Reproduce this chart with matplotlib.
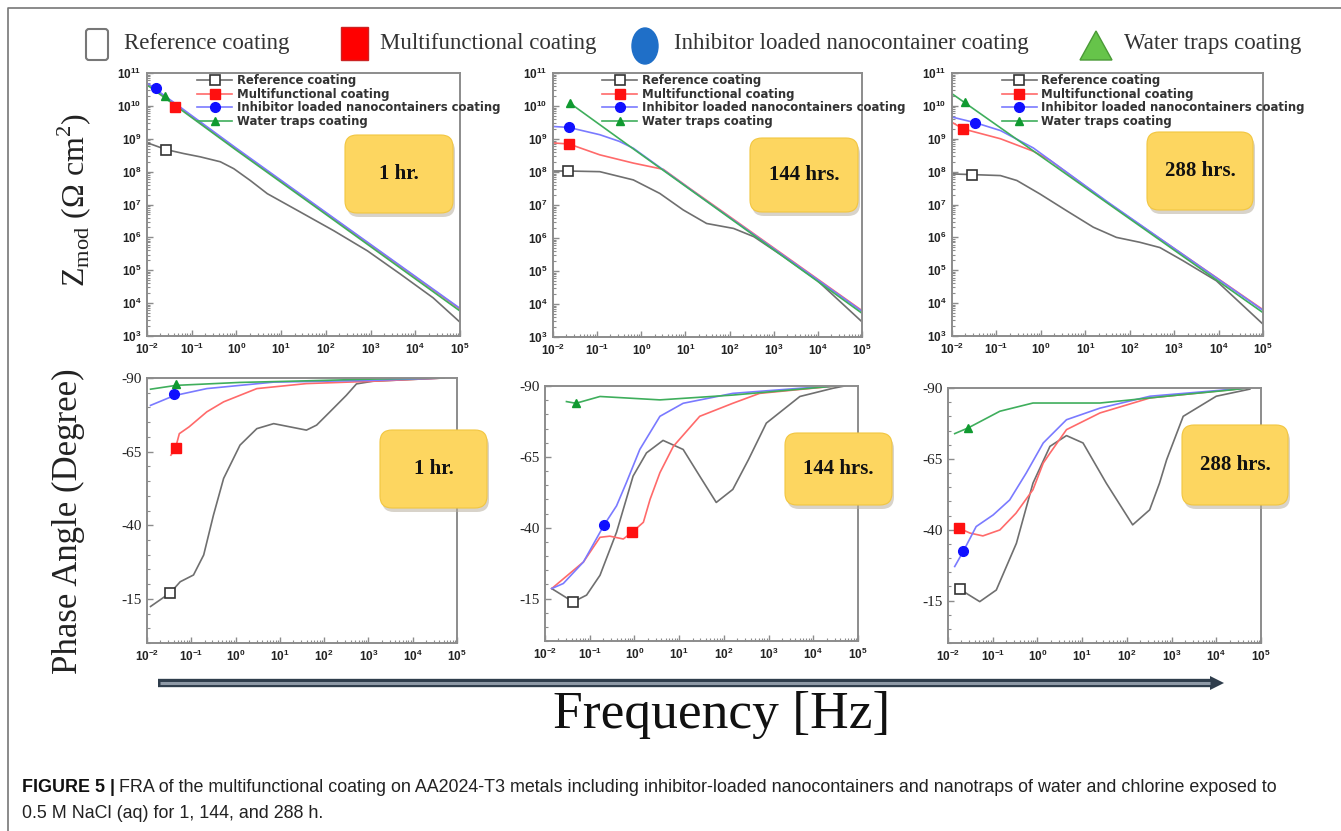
import numpy as np
import matplotlib
matplotlib.use("Agg")
import matplotlib.pyplot as plt
from matplotlib.lines import Line2D
from matplotlib.patches import FancyBboxPatch, Rectangle, Ellipse, Polygon
from matplotlib.ticker import LogLocator, MultipleLocator, NullFormatter

W, H = 1341, 831
plt.rcParams["font.family"] = ["Liberation Sans", "DejaVu Sans"]
plt.rcParams["font.weight"] = "bold"
plt.rcParams["font.size"] = 8

names = ["Reference coating", "Multifunctional coating",
         "Inhibitor loaded nanocontainers coating", "Water traps coating"]
hours = ["1 hr.", "144 hrs.", "288 hrs."]

# ---- |Z| data, log10(f) / log10(Z) ----
z1_ref_f = [-1.96, -1.57, -1.18, -0.81, -0.36, -0.06, 0.31, 0.69, 1.43, 2.18, 2.93, 3.67, 4.4, 5.0]
z1_ref_z = [8.86, 8.67, 8.55, 8.45, 8.3, 8.09, 7.73, 7.33, 6.77, 6.2, 5.59, 4.88, 4.16, 3.42]
z1_mul_f = [-1.96, 0.0, 2.0, 5.0]
z1_mul_z = [10.62, 8.68, 6.74, 3.82]
z1_inh_f = [-1.96, 0.0, 2.0, 5.0]
z1_inh_z = [10.66, 8.71, 6.76, 3.84]
z1_wat_f = [-1.96, 0.0, 2.0, 5.0]
z1_wat_z = [10.6, 8.65, 6.7, 3.76]

z2_ref_f = [-2.0, -1.66, -0.94, -0.18, 0.42, 0.95, 1.48, 2.09, 2.55, 3.23, 3.98, 5.0]
z2_ref_z = [8.03, 8.03, 8.01, 7.76, 7.35, 6.85, 6.44, 6.29, 6.04, 5.43, 4.72, 3.46]
z2_mul_f = [-2.0, -1.64, -0.94, -0.18, 0.5, 1.1, 2.0, 5.0]
z2_mul_z = [8.88, 8.85, 8.52, 8.27, 8.08, 7.5, 6.65, 3.8]
z2_inh_f = [-2.0, -1.64, -0.94, -0.5, -0.18, 1.5, 5.0]
z2_inh_z = [9.38, 9.35, 9.13, 8.93, 8.72, 7.1, 3.78]
z2_wat_f = [-1.62, -0.18, 1.5, 5.0]
z2_wat_z = [10.09, 8.7, 7.09, 3.72]

z3_ref_f = [-2.0, -1.55, -0.91, -0.54, -0.02, 0.58, 1.18, 1.7, 2.23, 2.68, 3.2, 3.95, 5.0]
z3_ref_z = [7.93, 7.91, 7.88, 7.73, 7.32, 6.81, 6.31, 6.0, 5.85, 5.69, 5.29, 4.68, 3.36]
z3_mul_f = [-2.0, -1.75, -0.91, -0.17, 0.2, 1.5, 5.0]
z3_mul_z = [9.5, 9.3, 9.0, 8.62, 8.35, 7.06, 3.8]
z3_inh_f = [-2.0, -1.48, -0.91, -0.17, 1.5, 5.0]
z3_inh_z = [9.66, 9.49, 9.25, 8.72, 7.08, 3.78]
z3_wat_f = [-2.0, -0.17, 1.5, 5.0]
z3_wat_z = [10.37, 8.63, 7.04, 3.71]

# single marker per curve (log10 f, log10 Z)
zm1 = [(-1.57, 8.67), (-1.37, 9.97), (-1.8, 10.55), (-1.59, 10.3)]
zm2 = [(-1.66, 8.03), (-1.64, 8.85), (-1.64, 9.35), (-1.62, 10.09)]
zm3 = [(-1.55, 7.91), (-1.75, 9.3), (-1.48, 9.49), (-1.7, 10.12)]

# ---- phase data, log10(f) / degrees ----
p1_ref_f = [-1.92, -1.47, -1.25, -0.95, -0.72, -0.5, -0.27, 0.1, 0.48, 0.86, 1.23, 1.6, 1.83, 2.13, 2.5, 2.73, 3.1, 4.7]
p1_ref_p = [-12.4, -17.1, -20.8, -23.1, -29.9, -43.4, -55.9, -67.2, -72.8, -74.5, -73.4, -72.3, -74, -78.5, -84.1, -88, -88.9, -90]
p1_mul_f = [-1.46, -1.36, -1.27, -1.05, -0.65, -0.27, 0.48, 1.6, 3.1, 4.7]
p1_mul_p = [-63.8, -66.0, -71.1, -73.4, -78.5, -81.9, -86.4, -88.1, -88.9, -90]
p1_inh_f = [-1.92, -1.39, -0.65, 0.86, 3.1, 4.7]
p1_inh_p = [-80.7, -84.0, -86.4, -88.6, -89.2, -90]
p1_wat_f = [-1.92, -1.34, 0.1, 1.5, 3.0, 4.7]
p1_wat_p = [-86.2, -87.5, -88.5, -89, -89.6, -90]

p2_ref_f = [-1.85, -1.37, -1.07, -0.77, -0.4, -0.03, 0.27, 0.64, 1.09, 1.46, 1.83, 2.2, 2.55, 2.95, 3.7, 4.44, 4.7]
p2_ref_p = [-18.5, -13.8, -16.2, -23.2, -38.4, -58.2, -66.4, -70.8, -67.6, -58.2, -48.9, -53.5, -64.0, -76.9, -86.3, -89.2, -90]
p2_mul_f = [-1.85, -1.14, -0.77, -0.55, -0.25, -0.05, 0.2, 0.35, 0.57, 0.87, 1.46, 2.2, 2.8, 4.5]
p2_mul_p = [-18.5, -27.9, -36.6, -37, -36, -38.4, -41.9, -50, -59.4, -68.7, -79.3, -83.9, -87.4, -90]
p2_inh_f = [-1.85, -1.59, -1.14, -0.68, -0.4, -0.18, 0.12, 0.57, 1.09, 2.2, 3.7, 4.5]
p2_inh_p = [-18.5, -20.3, -27.9, -40.9, -47.7, -55.9, -67.6, -79.3, -83.9, -87.4, -89.2, -90]
p2_wat_f = [-1.52, -1.31, -0.77, 0.57, 2.2, 4.5]
p2_wat_p = [-84.5, -83.9, -86.3, -85.1, -86.8, -90]

p3_ref_f = [-1.74, -1.29, -0.92, -0.47, -0.1, 0.28, 0.65, 1.02, 1.54, 2.13, 2.51, 2.73, 2.89, 3.26, 4.0, 4.75]
p3_ref_p = [-19, -14.6, -18.7, -35.2, -56.4, -69.4, -73.2, -70.6, -56.4, -41.7, -47, -56.4, -64.7, -80, -87.1, -89.6]
p3_mul_f = [-1.75, -1.51, -1.22, -0.84, -0.48, -0.1, 0.13, 0.28, 0.65, 1.4, 2.52, 4.7]
p3_mul_p = [-40.5, -38.8, -37.8, -39.9, -45.8, -54.1, -63.5, -67, -75.3, -81.2, -86.5, -90]
p3_inh_f = [-1.85, -1.66, -1.37, -0.99, -0.62, -0.25, 0.13, 0.65, 1.4, 2.52, 4.7]
p3_inh_p = [-27, -32.3, -41.1, -45.2, -50.5, -60, -70.6, -78.8, -82.9, -87.1, -90]
p3_wat_f = [-1.85, -1.55, -0.84, -0.1, 1.4, 2.89, 4.38, 4.7]
p3_wat_p = [-73.9, -75.9, -81.8, -84.7, -84.7, -87.1, -89.4, -90]

pm1 = [(-1.47, -17.1), (-1.34, -66.3), (-1.39, -84.4), (-1.34, -88.0)]
pm2 = [(-1.37, -13.8), (-0.05, -38.4), (-0.68, -40.9), (-1.31, -83.9)]
pm3 = [(-1.74, -19.0), (-1.75, -40.5), (-1.66, -32.3), (-1.55, -75.9)]

phase_ticks = [-90, -65, -40, -15]

line_cols = ["#6f6f6f", "#ff6a6a", "#7a7aff", "#3fae5c"]
mk = [dict(marker="s", mfc="white", mec="#333333", mew=1.2, ms=7),
      dict(marker="s", mfc="#ff1010", mec="#ff1010", ms=7),
      dict(marker="o", mfc="#1010ff", mec="#1010ff", ms=7),
      dict(marker="^", mfc="#109a30", mec="#109a30", ms=6)]

top_sets = [
    ([(z1_ref_f, z1_ref_z), (z1_mul_f, z1_mul_z), (z1_inh_f, z1_inh_z), (z1_wat_f, z1_wat_z)], zm1),
    ([(z2_ref_f, z2_ref_z), (z2_mul_f, z2_mul_z), (z2_inh_f, z2_inh_z), (z2_wat_f, z2_wat_z)], zm2),
    ([(z3_ref_f, z3_ref_z), (z3_mul_f, z3_mul_z), (z3_inh_f, z3_inh_z), (z3_wat_f, z3_wat_z)], zm3),
]
bot_sets = [
    ([(p1_ref_f, p1_ref_p), (p1_mul_f, p1_mul_p), (p1_inh_f, p1_inh_p), (p1_wat_f, p1_wat_p)], pm1),
    ([(p2_ref_f, p2_ref_p), (p2_mul_f, p2_mul_p), (p2_inh_f, p2_inh_p), (p2_wat_f, p2_wat_p)], pm2),
    ([(p3_ref_f, p3_ref_p), (p3_mul_f, p3_mul_p), (p3_inh_f, p3_inh_p), (p3_wat_f, p3_wat_p)], pm3),
]

top_boxes = [(147, 73, 460, 336), (553, 73, 862, 337), (952, 73, 1263, 336)]
bot_boxes = [(147, 378, 457, 643), (545, 386, 858, 641), (948, 388, 1261, 643)]
top_tags = [(345, 135, 108, 78), (750, 138, 108, 74), (1147, 132, 106, 78)]
bot_tags = [(380, 430, 107, 78), (785, 433, 107, 72), (1182, 425, 106, 80)]


def px_axes(fig, x0, y0, x1, y1):
    return fig.add_axes([x0 / W, 1 - y1 / H, (x1 - x0) / W, (y1 - y0) / H])


def style_axes(ax):
    for s in ax.spines.values():
        s.set_color("#8c8c8c")
        s.set_linewidth(1.4)
    ax.tick_params(which="both", direction="in", colors="#8c8c8c",
                   labelcolor="#222222", top=False, right=False)
    ax.tick_params(which="major", length=4, width=1, labelsize=8.5, pad=4)
    ax.tick_params(which="minor", length=2, width=0.8)
    ax.xaxis.set_major_locator(LogLocator(base=10, numticks=20))
    ax.xaxis.set_minor_locator(LogLocator(base=10, subs=np.arange(2, 10), numticks=100))
    ax.xaxis.set_minor_formatter(NullFormatter())


fig = plt.figure(figsize=(W / 100, H / 100), dpi=100)

for (series, marks), box in zip(top_sets, top_boxes):
    ax = px_axes(fig, *box)
    for i, (f, z) in enumerate(series):
        ax.plot(np.power(10.0, f), np.power(10.0, z), color=line_cols[i], lw=1.2, zorder=2)
        ax.plot(10 ** marks[i][0], 10 ** marks[i][1], ls="none", zorder=3, **mk[i])
    ax.set_xscale("log")
    ax.set_yscale("log")
    ax.set_xlim(1e-2, 1e5)
    ax.set_ylim(1e3, 1e11)
    style_axes(ax)
    ax.yaxis.set_major_locator(LogLocator(base=10, numticks=20))
    ax.yaxis.set_minor_locator(LogLocator(base=10, subs=np.arange(2, 10), numticks=100))
    ax.yaxis.set_minor_formatter(NullFormatter())
    handles = [Line2D([], [], color=line_cols[i], lw=1.2, **mk[i]) for i in range(4)]
    leg = ax.legend(handles, names, loc="upper left", bbox_to_anchor=(0.16, 0.995),
                    frameon=False, borderpad=0, borderaxespad=0,
                    prop=dict(family="DejaVu Sans", weight="bold", size=8.4),
                    handlelength=3.0, handletextpad=0.4, labelspacing=0.05,
                    numpoints=1, labelcolor="#333333")

for (series, marks), box in zip(bot_sets, bot_boxes):
    ax = px_axes(fig, *box)
    for i, (f, p) in enumerate(series):
        ax.plot(np.power(10.0, f), p, color=line_cols[i], lw=1.2, zorder=2)
        ax.plot(10 ** marks[i][0], marks[i][1], ls="none", zorder=3, **mk[i])
    ax.set_xscale("log")
    ax.set_xlim(1e-2, 1e5)
    ax.set_ylim(0, -90)
    style_axes(ax)
    ax.set_yticks(phase_ticks, labels=[str(t) for t in phase_ticks],
                  fontfamily="Liberation Serif", fontsize=11, fontweight="normal")
    ax.yaxis.set_minor_locator(MultipleLocator(5))

# overlay in pixel coordinates for the decorations
ov = fig.add_axes([0, 0, 1, 1])
ov.set_xlim(0, W)
ov.set_ylim(H, 0)
ov.axis("off")
ov.patch.set_alpha(0)

ov.plot([8, 8, W], [H, 8, 8], color="#777777", lw=1.2)

for (x, y, w, h), lab in zip(top_tags + bot_tags, hours + hours):
    ov.add_patch(FancyBboxPatch((x + 2, y + 4), w, h, boxstyle="round,pad=0,rounding_size=12",
                                fc="#b8b0a0", ec="none", alpha=0.55))
    ov.add_patch(FancyBboxPatch((x, y), w, h, boxstyle="round,pad=0,rounding_size=12",
                                fc="#fdd660", ec="#f2c640", lw=0.8))
    ov.text(x + w / 2, y + h / 2, lab, ha="center", va="center",
            fontfamily="Liberation Serif", fontweight="bold", fontsize=15, color="#111111")

# figure-level legend
ov.add_patch(FancyBboxPatch((86, 29), 22, 31, boxstyle="round,pad=0,rounding_size=3",
                            fc="white", ec="#777777", lw=1.5))
ov.add_patch(Rectangle((341, 27), 27, 33, fc="#ff0000", ec="#cc2222", lw=1))
ov.add_patch(Ellipse((645, 46), 26, 36, fc="#1f6fc8", ec="#1f6fc8"))
ov.add_patch(Polygon([(1080, 60), (1112, 60), (1096, 31)], closed=True, fc="#66c44a", ec="#4a9a36", lw=1))
for x, lab in [(124, "Reference coating"), (380, "Multifunctional coating"),
               (674, "Inhibitor loaded nanocontainer coating"), (1124, "Water traps coating")]:
    ov.text(x, 44, lab, ha="left", va="center", fontfamily="Liberation Serif",
            fontweight="normal", fontsize=16.5, color="#333333")

# axis labels
ov.text(74, 200, r"Z$_{\mathdefault{mod}}$ (Ω cm$^{\mathdefault{2}}$)", rotation=90, ha="center",
        va="center", fontfamily="Liberation Serif", fontweight="normal", fontsize=23, color="#222222")
ov.text(68, 521, "Phase Angle (Degree)", rotation=90, ha="center", va="center",
        fontfamily="Liberation Serif", fontweight="normal", fontsize=25, color="#222222")

# frequency arrow
ov.plot([158, 1212], [683, 683], color="#2f3d4c", lw=6, solid_capstyle="butt")
ov.plot([160, 1210], [683, 683], color="#8e99a6", lw=2.2, solid_capstyle="butt")
ov.add_patch(Polygon([(1210, 676), (1224, 683), (1210, 690)], closed=True, fc="#2f3d4c", ec="none"))
ov.text(722, 728, "Frequency [Hz]", ha="center", va="baseline", fontfamily="Liberation Serif",
        fontweight="normal", fontsize=38.5, color="#111111")

# caption
rend = fig.canvas.get_renderer()
t = fig.text(22 / W, 1 - 787 / H, "FIGURE 5 |", ha="left", va="center",
             fontfamily="Liberation Sans", fontweight="bold", fontsize=12.9, color="#111111")
bb = t.get_window_extent(rend)
fig.text((bb.x1 + 4) / W, 1 - 787 / H,
         "FRA of the multifunctional coating on AA2024-T3 metals including inhibitor-loaded "
         "nanocontainers and nanotraps of water and chlorine exposed to",
         ha="left", va="center", fontfamily="Liberation Sans", fontweight="normal",
         fontsize=12.9, color="#222222")
fig.text(22 / W, 1 - 813 / H, "0.5 M NaCl (aq) for 1, 144, and 288 h.", ha="left", va="center",
         fontfamily="Liberation Sans", fontweight="normal", fontsize=12.9, color="#222222")

fig.savefig("out.png", dpi=100, facecolor="white")
